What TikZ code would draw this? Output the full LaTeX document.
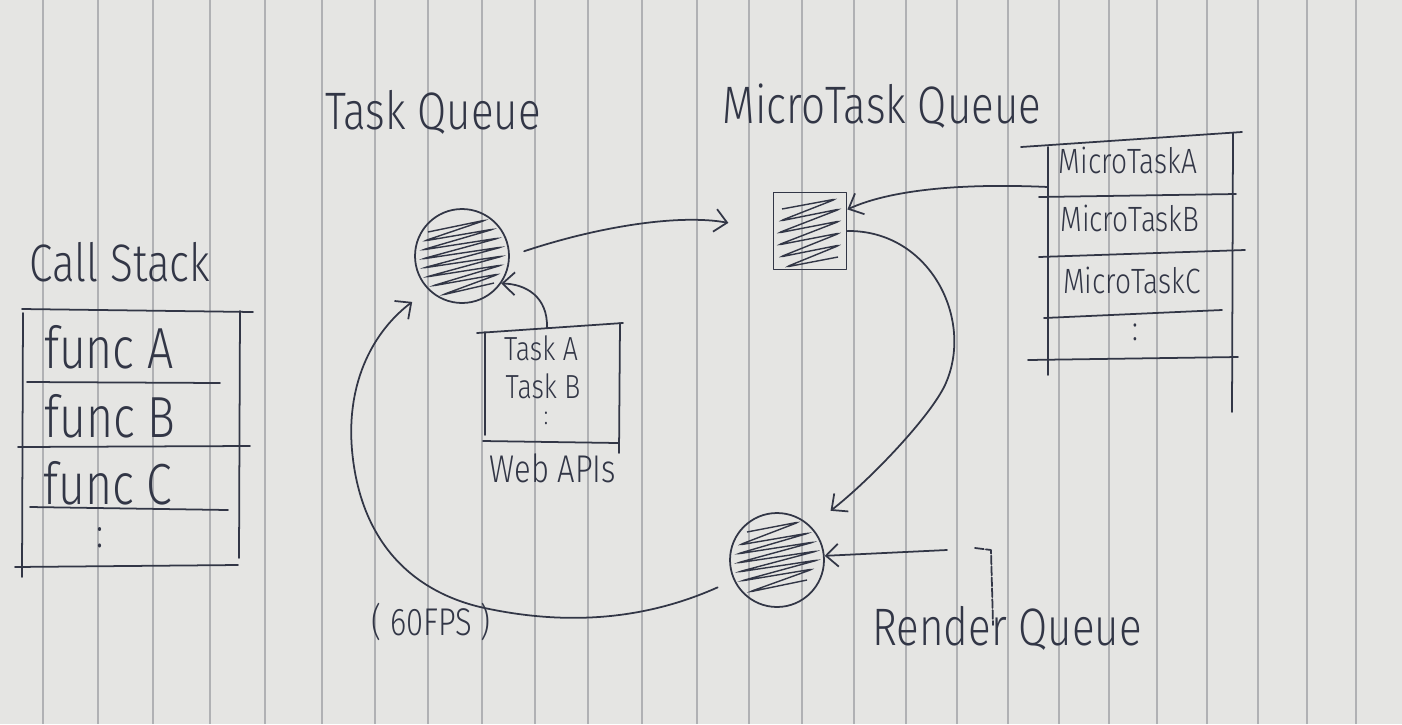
\documentclass[tikz,border=0pt]{standalone}
\usepackage{fontspec}
\setmainfont{Fira Sans Light}[FakeStretch=0.8]
\usetikzlibrary{arrows.meta}

\definecolor{paper}{RGB}{229,229,227}
\definecolor{rule}{RGB}{176,177,180}
\definecolor{ink}{RGB}{50,54,70}

\tikzset{
  pen/.style={draw=ink, line width=1pt, line cap=round, line join=round},
  scribble/.style={draw=ink, line width=0.8pt, rounded corners=2pt},
  hand/.style={text=ink, inner sep=0pt},
  title/.style={hand, font=\fontsize{30}{32}\selectfont},
  funcfont/.style={hand, font=\fontsize{33}{35}\selectfont},
  itemfont/.style={hand, font=\fontsize{19}{21}\selectfont},
  microfont/.style={hand, font=\fontsize{20}{22}\selectfont},
  arr/.style={pen, -{Straight Barb[length=7pt, width=13pt]}},
}

\begin{document}
\begin{tikzpicture}[x=0.02cm, y=-0.02cm]
\useasboundingbox (0,0) rectangle (1402,724);

% paper
\fill[paper] (0,0) rectangle (1402,724);
\foreach \lx in {43,98,153,210,265,322,375,428,482,535,588,642,697,749,802,854,906,957,1008,1059,1109,1157,1207,1258,1307,1356}
  \draw[rule, line width=0.6pt] (\lx,0) -- (\lx,724);

% Call Stack
\node[title] (cstitle) at (120,262) {Call Stack};
\draw[pen] (22,309) -- (253,312);
\draw[pen] (23,313) -- (22,577);
\draw[pen] (240,311) -- (239,558);
\draw[pen] (15,567) -- (238,565);
\draw[pen] (27,382) -- (220,383);
\draw[pen] (18,447) -- (250,446);
\draw[pen] (30,507) -- (228,510);
\node[funcfont] (funcA) at (109,347) {func A};
\node[funcfont] (funcB) at (110,416) {func B};
\node[funcfont] (funcC) at (108,483) {func C};
\node[hand, font=\fontsize{24}{26}\selectfont] (funcdots) at (100,538) {:};

% Task Queue
\node[title] (tqtitle) at (433,112) {Task Queue};
\node[circle, pen, minimum size=1.88cm, inner sep=0pt] (taskq) at (462,256) {};
\draw[scribble, shift={(taskq.center)}] (-34,-24) -- (24,-36) -- (-38,-15) -- (32,-27) -- (-40,-6) -- (37,-18)
  -- (-40,3) -- (40,-9) -- (-39,12) -- (41,0) -- (-36,21) -- (40,9) -- (-30,30) -- (37,18) -- (-20,39) -- (32,27);

% Web APIs
\draw[pen] (477,333) -- (623,323);
\draw[pen] (485,332) -- (485,435);
\draw[pen] (620,323) -- (619,453);
\draw[pen] (483,441) -- (618,443);
\node[itemfont] (taskA) at (541,348) {Task A};
\node[itemfont] (taskB) at (543,386) {Task B};
\node[hand, font=\fontsize{15}{17}\selectfont] (taskdots) at (546,418) {:};
\node[hand, font=\fontsize{22}{24}\selectfont] (webapis) at (553,468) {Web APIs};
\coordinate (webtop) at (547,328);

% MicroTask Queue
\node[title] (mqtitle) at (882,106) {MicroTask Queue};
\node[rectangle, pen, minimum width=1.46cm, minimum height=1.54cm, inner sep=0pt] (microq) at (810,231) {};
\draw[scribble, shift={(microq.center)}] (-28,-22) -- (26,-32) -- (-30,-10) -- (30,-22) -- (-32,2) -- (30,-10)
  -- (-32,14) -- (30,2) -- (-30,26) -- (30,14) -- (-24,36) -- (28,26);

% MicroTask list
\draw[pen] (1021,147) -- (1242,132);
\draw[pen] (1048,147) -- (1048,375);
\draw[pen] (1233,133) -- (1232,412);
\draw[pen] (1039,197) -- (1236,194);
\draw[pen] (1039,257) -- (1245,250);
\draw[pen] (1044,318) -- (1222,310);
\draw[pen] (1028,360) -- (1238,357);
\node[microfont] (mtaskA) at (1128,160) {MicroTaskA};
\node[microfont] (mtaskB) at (1130,218) {MicroTaskB};
\node[microfont] (mtaskC) at (1132,280) {MicroTaskC};
\node[microfont] (mtaskdots) at (1135,332) {:};
\coordinate (mtaskout) at (1048,187);

% Render Queue
\node[circle, pen, minimum size=1.88cm, inner sep=0pt] (renderq) at (777,560) {};
\draw[scribble, shift={(renderq.center)}] (-30,-28) -- (22,-38) -- (-38,-15) -- (32,-27) -- (-40,-6) -- (37,-18)
  -- (-40,3) -- (40,-9) -- (-39,12) -- (41,0) -- (-36,21) -- (36,9) -- (-28,32) -- (30,20);
\node[title] (rqtitle) at (1007,628) {Render Queue};
\coordinate (rqin) at (947,550);
\draw[pen, dash pattern=on 5pt off 1.2pt] (975,548) -- (991,550) -- (993,625);
\node[hand, font=\fontsize{22}{24}\selectfont] (fps) at (431,622) {( 60FPS )};

% arrows
\draw[arr] (webtop) .. controls (548,296) and (525,284) .. (taskq.-35);
\draw[arr, shorten <=0.3cm, shorten >=0.9cm] (taskq.east) .. controls (600,226) and (680,214) .. (microq.west);
\draw[arr] (mtaskout) .. controls (960,183) and (890,190) .. (microq.30);
\draw[arr, shorten >=0.5cm] (microq.east) .. controls (930,230) and (975,320) .. (945,385)
  .. controls (930,417) and (870,480) .. (renderq.45);
\draw[arr] (rqin) -- (renderq.5);
\draw[arr, shorten <=0.35cm, shorten >=0.4cm] (renderq.205) .. controls (640,622) and (560,625) .. (480,607)
  .. controls (410,590) and (360,540) .. (352,450) .. controls (346,380) and (375,330) .. (taskq.225);

\end{tikzpicture}
\end{document}
